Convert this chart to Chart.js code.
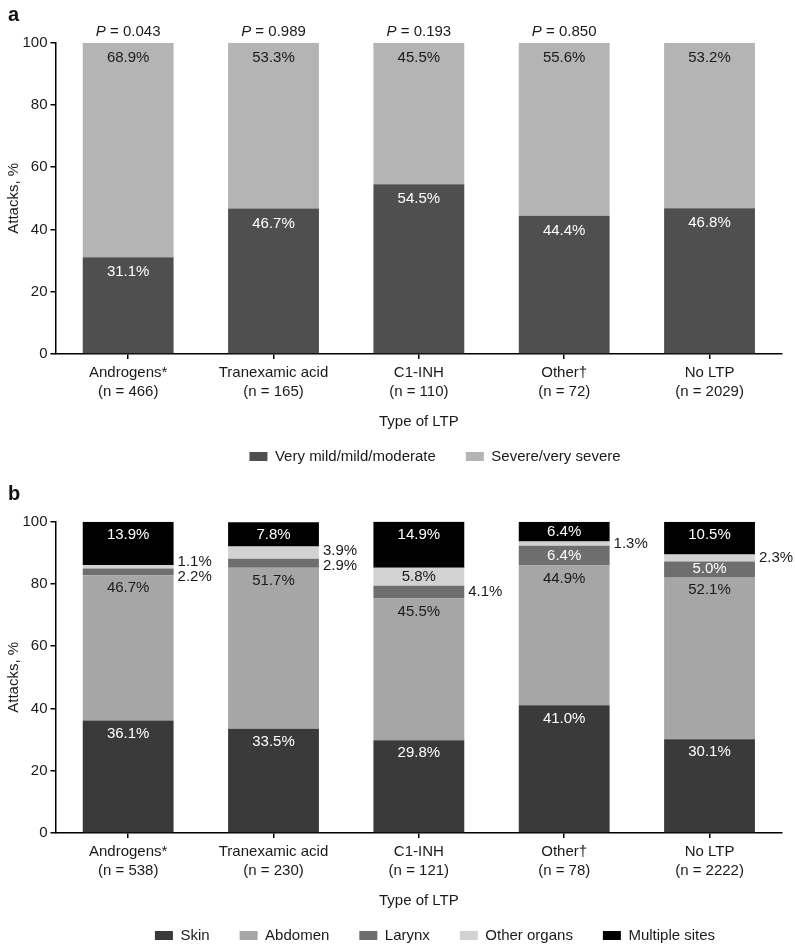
<!DOCTYPE html>
<html><head><meta charset="utf-8">
<script src="https://cdn.jsdelivr.net/npm/chart.js@4.4.1/dist/chart.umd.min.js"></script>
<style>
html,body{margin:0;padding:0;background:#fff;width:795px;height:945px;overflow:hidden;position:relative}
.panel{position:absolute;left:0;width:795px;height:496px}
#pa{top:0}#pb{top:479px}
</style></head><body>
<div class="panel" id="pa"><canvas id="ca"></canvas></div>
<div class="panel" id="pb"><canvas id="cb"></canvas></div>
<script>
// ---- data ----
const categoriesA = [["Androgens*","(n = 466)"],["Tranexamic acid","(n = 165)"],["C1-INH","(n = 110)"],["Other\u2020","(n = 72)"],["No LTP","(n = 2029)"]];
const mildA = [31.1, 46.7, 54.5, 44.4, 46.8];
const severeA = [68.9, 53.3, 45.5, 55.6, 53.2];
const pValuesA = ["0.043", "0.989", "0.193", "0.850", null];

const categoriesB = [["Androgens*","(n = 538)"],["Tranexamic acid","(n = 230)"],["C1-INH","(n = 121)"],["Other\u2020","(n = 78)"],["No LTP","(n = 2222)"]];
const skinB = [36.1, 33.5, 29.8, 41.0, 30.1];
const abdomenB = [46.7, 51.7, 45.5, 44.9, 52.1];
const larynxB = [2.2, 2.9, 4.1, 6.4, 5.0];
const otherOrgansB = [1.1, 3.9, 5.8, 1.3, 2.3];
const multipleB = [13.9, 7.8, 14.9, 6.4, 10.5];

const yTicks = [0, 20, 40, 60, 80, 100];

// ---- styling ----
const FONT = "'Liberation Sans', Arial, Helvetica, sans-serif";
Chart.defaults.font.family = FONT;
Chart.defaults.font.size = 15;
Chart.defaults.color = '#1a1a1a';

const panelPlugin = {
  id: 'panelExtras',
  afterLayout(chart, args, o) {
    const lg = chart.legend;
    if (lg) {
      const h = lg.bottom - lg.top;
      lg.top = o.legendY; lg.bottom = o.legendY + h;
      const w = lg.right - lg.left;
      lg.left = o.legendCenter - w / 2; lg.right = o.legendCenter + w / 2;
    }
  },
  afterDatasetsDraw(chart, args, o) {
    const ctx = chart.ctx;
    ctx.save();
    ctx.font = '15px ' + FONT;
    ctx.textBaseline = 'middle';
    const outside = {};
    chart.data.datasets.forEach((ds, di) => {
      const meta = chart.getDatasetMeta(di);
      meta.data.forEach((bar, i) => {
        const v = ds.data[i];
        const p = bar.getProps(['x', 'y', 'base', 'width'], true);
        const top = Math.min(p.y, p.base), bottom = Math.max(p.y, p.base);
        const mid = (top + bottom) / 2;
        const txt = v.toFixed(1) + '%';
        if (v < o.outsideBelow) {
          (outside[i] = outside[i] || []).push({x: p.x + p.width / 2 + 4, y: mid, txt});
        } else {
          ctx.textAlign = 'center';
          ctx.fillStyle = ds.labelColor;
          ctx.fillText(txt, p.x, Math.min(top + o.insideOffset, mid));
        }
      });
    });
    ctx.textAlign = 'left';
    ctx.fillStyle = '#1a1a1a';
    Object.values(outside).forEach(list => {
      list.sort((a, b) => a.y - b.y);
      if (list.length === 2 && list[1].y - list[0].y < o.minGap) {
        const m = (list[0].y + list[1].y) / 2;
        list[0].y = m - o.minGap / 2; list[1].y = m + o.minGap / 2;
      }
      list.forEach(l => ctx.fillText(l.txt, l.x, l.y));
    });
    ctx.restore();
  },
  afterDraw(chart, args, o) {
    const ctx = chart.ctx;
    ctx.save();
    ctx.fillStyle = '#111';
    ctx.font = 'bold 20px ' + FONT;
    ctx.textBaseline = 'middle';
    ctx.textAlign = 'left';
    ctx.fillText(o.letter, 8, 15);
    if (o.pValues) {
      const meta = chart.getDatasetMeta(0);
      const yy = chart.chartArea.top - 11;
      o.pValues.forEach((pv, i) => {
        if (!pv) return;
        const x = meta.data[i].x;
        ctx.font = 'italic 15px ' + FONT;
        const w1 = ctx.measureText('P').width;
        ctx.font = '15px ' + FONT;
        const rest = ' = ' + pv;
        const w2 = ctx.measureText(rest).width;
        const x0 = x - (w1 + w2) / 2;
        ctx.font = 'italic 15px ' + FONT;
        ctx.fillStyle = '#1a1a1a';
        ctx.fillText('P', x0, yy);
        ctx.font = '15px ' + FONT;
        ctx.fillText(rest, x0 + w1, yy);
      });
    }
    ctx.restore();
  }
};

function makeChart(id, categories, datasets, extras) {
  return new Chart(document.getElementById(id), {
    type: 'bar',
    data: {
      labels: categories,
      datasets: datasets.map(d => Object.assign({barPercentage: 0.625, categoryPercentage: 1, borderWidth: 0}, d))
    },
    plugins: [panelPlugin],
    options: {
      responsive: true,
      maintainAspectRatio: false,
      animation: false,
      devicePixelRatio: 1,
      layout: {padding: {top: 42.7, right: 12.8, left: 0, bottom: 0}},
      scales: {
        x: {
          stacked: true,
          offset: true,
          grid: {display: true, drawOnChartArea: false, drawTicks: true, tickLength: 5, offset: false, color: '#000', lineWidth: 1.5},
          border: {display: true, color: '#000', width: 1.5},
          ticks: {padding: 4, font: {size: 15, lineHeight: 1.27}, color: '#1a1a1a', maxRotation: 0, autoSkip: false},
          title: {display: true, text: 'Type of LTP', font: {size: 15}, color: '#1a1a1a', padding: {top: 0, bottom: 10}},
          afterFit(s) { s.height = 87; }
        },
        y: {
          stacked: true,
          min: 0, max: 100,
          afterBuildTicks(s) { s.ticks = yTicks.map(v => ({value: v})); },
          grid: {display: true, drawOnChartArea: false, drawTicks: true, tickLength: 5, color: '#000', lineWidth: 1.5},
          border: {display: true, color: '#000', width: 1.5},
          ticks: {padding: 3, font: {size: 15}, color: '#1a1a1a'},
          title: {display: true, text: 'Attacks, %', font: {size: 15}, color: '#1a1a1a', padding: {top: 5, bottom: 0}},
          afterFit(s) { s.width = 55.5; }
        }
      },
      plugins: {
        legend: {
          display: true,
          position: 'bottom',
          labels: {boxWidth: 18, boxHeight: 9, padding: 30, font: {size: 15}, color: '#1a1a1a'}
        },
        tooltip: {enabled: false},
        panelExtras: extras
      }
    }
  });
}

makeChart('ca', categoriesA, [
  {label: 'Very mild/mild/moderate', data: mildA, backgroundColor: '#4f4f4f', labelColor: '#ffffff'},
  {label: 'Severe/very severe', data: severeA, backgroundColor: '#b4b4b4', labelColor: '#1a1a1a'}
], {letter: 'a', pValues: pValuesA, insideOffset: 15, outsideBelow: 4.5, minGap: 15, legendY: 419, legendCenter: 435});

makeChart('cb', categoriesB, [
  {label: 'Skin', data: skinB, backgroundColor: '#3a3a3a', labelColor: '#ffffff'},
  {label: 'Abdomen', data: abdomenB, backgroundColor: '#a6a6a6', labelColor: '#1a1a1a'},
  {label: 'Larynx', data: larynxB, backgroundColor: '#6e6e6e', labelColor: '#ffffff'},
  {label: 'Other organs', data: otherOrgansB, backgroundColor: '#d2d2d2', labelColor: '#1a1a1a'},
  {label: 'Multiple sites', data: multipleB, backgroundColor: '#000000', labelColor: '#ffffff'}
], {letter: 'b', pValues: null, insideOffset: 13, outsideBelow: 4.5, minGap: 15, legendY: 419, legendCenter: 435});
</script>
</body></html>
